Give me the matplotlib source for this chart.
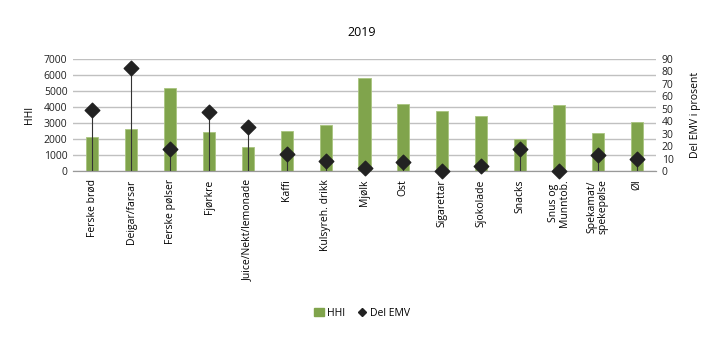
import numpy as np
import matplotlib.pyplot as plt
from matplotlib.lines import Line2D
from matplotlib.patches import Patch

plt.rcParams['font.family'] = ['Open Sans', 'DejaVu Sans']

categories = ["Ferske brød", "Deigar/farsar", "Ferske pølser", "Fjørkre",
              "Juice/Nekt/lemonade", "Kaffi", "Kulsyreh. drikk", "Mjølk", "Ost",
              "Sigarettar", "Sjokolade", "Snacks", "Snus og\nMunntob.",
              "Spekamat/\nspekepølse", "Øl"]
hhi = [2150, 2600, 5170, 2440, 1500, 2480, 2875, 5830, 4170,
       3750, 3440, 2020, 4100, 2400, 3040]
del_emv = [49.0, 82.8, 17.9, 47.4, 35.1, 13.9, 7.8, 2.7, 7.0,
           0.0, 4.0, 17.4, 0.3, 12.9, 9.6]
left_ticks = [0, 1000, 2000, 3000, 4000, 5000, 6000, 7000]
right_ticks = [0, 10, 20, 30, 40, 50, 60, 70, 80, 90]

green = "#80a44c"
dark = "#222222"
grid = "#c0c0c0"

fig = plt.figure(figsize=(7.2, 3.41), dpi=100)
ax = fig.add_axes([73 / 720, 1 - 171 / 341, (656 - 73) / 720, (171 - 59) / 341])
ax2 = ax.twinx()

x = np.arange(len(categories))
ax.bar(x, hhi, width=0.31, color=green, edgecolor="#a9c47f", linewidth=0.6, zorder=2)
ax.set_ylim(0, 7000)
ax.set_xlim(-0.5, len(categories) - 0.5)
ax.set_yticks(left_ticks)
ax.yaxis.grid(True, color=grid, linewidth=1.0, zorder=0)
ax.set_axisbelow(True)

ax2.vlines(x, 0, del_emv, color="#333333", linewidth=0.8, zorder=3)
ax2.scatter(x, del_emv, marker="D", s=55, color=dark, zorder=4, clip_on=False)
ax2.set_ylim(0, 90)
ax2.set_yticks(right_ticks)

for a in (ax, ax2):
    for s in ("top", "left", "right"):
        a.spines[s].set_visible(False)
    a.spines["bottom"].set_color("#999999")
    a.tick_params(axis="y", length=0, labelsize=7.5, colors="#222222", pad=4)

ax.set_xticks(x)
ax.set_xticklabels(categories, rotation=90, fontsize=7.5, va="top", ha="center",
                   linespacing=1.0)
ax.tick_params(axis="x", length=0, pad=6)

ax.set_ylabel("HHI", fontsize=7.5, labelpad=6)
ax2.set_ylabel("Del EMV i prosent", fontsize=7.5, labelpad=12)

fig.text(362 / 720, 1 - 33 / 341, "2019", ha="center", va="center", fontsize=9)

handles = [Patch(facecolor=green, edgecolor=green, label="HHI"),
           Line2D([], [], marker="D", color=dark, linestyle="none", markersize=4.5,
                  label="Del EMV")]
fig.legend(handles=handles, loc="center", bbox_to_anchor=(362 / 720, 1 - 313 / 341),
           ncol=2, frameon=False, fontsize=7.5, handlelength=0.9, handletextpad=0.3,
           columnspacing=1.2)

plt.savefig("out.png", dpi=100)
